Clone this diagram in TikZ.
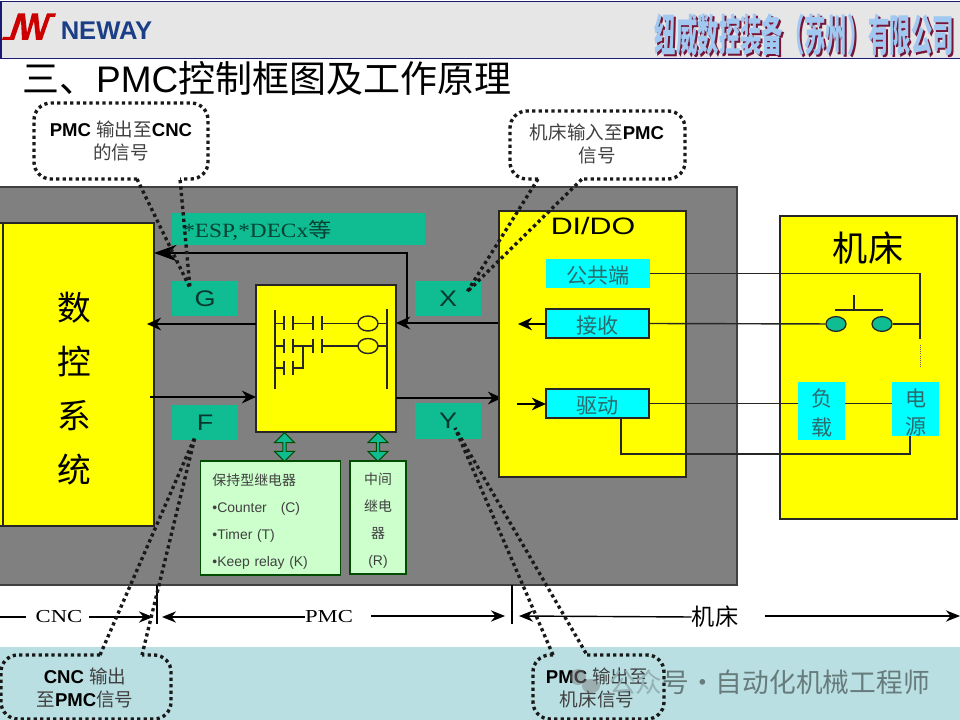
\documentclass[tikz,border=0pt]{standalone}
\usepackage{graphicx}
\usepackage{fontspec}
\setmainfont{Liberation Sans}
\newfontfamily\cjk{Noto Sans CJK SC}
\newfontfamily\serifl{Liberation Serif}
\usetikzlibrary{arrows.meta,positioning,calc,shapes.arrows,shapes.geometric}

\definecolor{panelgray}{HTML}{808080}
\definecolor{headgray}{HTML}{E6E6E6}
\definecolor{navyline}{HTML}{1A1A70}
\definecolor{plcyellow}{HTML}{FFFF00}
\definecolor{sigteal}{HTML}{10BC92}
\definecolor{ioteal}{HTML}{00FFFF}
\definecolor{relaygreen}{HTML}{CCFFCC}
\definecolor{bandteal}{HTML}{BADFE2}
\definecolor{inktext}{HTML}{2A6A6C}

\newcommand{\fs}[1]{\fontsize{#1}{#1}\selectfont}
\newcommand{\widen}[2]{\scalebox{#1}[1]{#2}}
\newcommand{\companyname}{\scalebox{.49}[1]{\fontsize{31}{33}\selectfont\cjk\bfseries 纽威数控装备（苏州）有限公司}}
\newcommand{\zh}[1]{{\cjk\color{black!75}#1}}

\tikzset{
  plate/.style={draw=black!85,line width=1.1pt,inner sep=0pt,outer sep=0pt},
  yellowbox/.style={plate,fill=plcyellow},
  sigbox/.style={fill=sigteal,inner sep=0pt,outer sep=0pt,minimum width=1.65cm,minimum height=.875cm,text=black!70!sigteal,font=\fs{16}},
  iobox/.style={plate,fill=ioteal,minimum width=2.58cm,minimum height=.73cm,text=inktext,font=\fs{15}\cjk,text height=16pt,text depth=2pt},
  padbox/.style={fill=ioteal,inner sep=0pt,outer sep=0pt,minimum width=1.175cm},
  padtext/.style={text=inktext,font=\fs{15}\cjk,align=center,inner sep=0pt},
  relaybox/.style={plate,draw=black!70!green,fill=relaygreen},
  relaytext/.style={text=black!75,inner sep=0pt,font=\fontsize{9.9}{19.2}\selectfont},
  sigline/.style={draw=black,line width=1.5pt},
  sigarrow/.style={sigline,-{Stealth[length=10pt,width=9pt]}},
  wire/.style={draw=black!85,line width=1pt},
  dimline/.style={draw=black,line width=1pt},
  dimarrow/.style={dimline,-{Stealth[length=10pt,width=8pt]}},
  dimtext/.style={font=\fs{13}\serifl,inner sep=0pt},
  callout/.style={draw=black!90,line width=2.4pt,dash pattern=on 2.3pt off 2.3pt},
  calltext/.style={font=\fs{13.2},align=center,inner sep=0pt},
  lamp/.style={draw=black!85,line width=.9pt,fill=sigteal,ellipse,minimum width=.5cm,minimum height=.37cm,inner sep=0pt},
  bothway/.style={draw=black!70!green,line width=.8pt,fill=sigteal,double arrow,rotate=90,inner sep=0pt,
    minimum width=.5cm,minimum height=.72cm,double arrow head extend=2pt}
}

\begin{document}
\begin{tikzpicture}[x=.025cm,y=-.025cm]
\useasboundingbox (0,0) rectangle (960,720);
\clip (0,0) rectangle (960,720);

% Header
\fill[headgray] (0,1) rectangle (960,58);
\draw[navyline,line width=1pt] (1,58) -- (1,1.5) -- (960,1.5) (0,58.5) -- (960,58.5);
\fill[red!80!black] (2,40) -- (3,37) -- (10,37) -- (18,13.5) -- (25,13.5) -- (27,33) -- (32,13.5) -- (38,13.5) -- (40,33) -- (47,13.5) -- (56,13.5) -- (55,17) -- (50,17) -- (42,40) -- (36,40) -- (34,21) -- (28,40) -- (22,40) -- (21,20) -- (14,40) -- cycle;
\node[font=\fs{18.2}\bfseries,text={rgb,255:red,27;green,63;blue,135},inner sep=0pt] (neway) at (106.5,31) {NEWAY};
\node[text={rgb,255:red,120;green,20;blue,55},inner sep=0pt] (companyshade) at (806.5,37) {\companyname};
\node[text={rgb,255:red,160;green,200;blue,240},inner sep=0pt] (company) at (804.5,35) {\companyname};

% Title
\node[font=\fs{26.3},anchor=west,inner sep=0pt] (title) at (22,78) {{\cjk 三、}PMC{\cjk 控制框图及工作原理}};

% Bottom band
\fill[bandteal] (0,647) rectangle (960,720);

% PMC panel
\fill[panelgray,draw=black!75,line width=1.2pt] (-5,187) rectangle (737,585);

% CNC block
\fill[plcyellow,draw=black!85,line width=1.1pt] (-5,223) rectangle (154,526);
\draw[black!85,line width=1pt] (3,223) -- (3,526);
\foreach \y/\lab in {308/数,362/控,416/系,470/统}
  \node[font=\fs{24}\cjk,inner sep=0pt] (cnc\y) at (74,\y) {\lab};

% Signal areas
\node[fill=sigteal,inner sep=0pt,outer sep=0pt,minimum width=6.33cm,minimum height=.8cm] (espbox) at (298.5,229) {};
\node[font=\fs{14.4}\serifl,text=black!65!sigteal,inner sep=0pt,anchor=west] (esptext) at (183,231) {\widen{1.15}{*ESP,*DECx{\cjk 等}}};
\foreach \nam/\x/\y in {G/205/298.5,X/448/298.5,F/205/422.5,Y/448/421}
  \node[sigbox] (\nam box) at (\x,\y) {\widen{1.2}{\nam}};

% Ladder block
\node[yellowbox,minimum width=3.5cm,minimum height=3.675cm] (ladder) at (326,358.5) {};
\draw[wire] (275,310) -- (275,389) (387,309) -- (387,389);
\foreach \y in {323.5,346}
{
  \draw[wire] (275,\y) -- (284,\y) (293,\y) -- (313,\y) (322,\y) -- (358,\y) (378,\y) -- (387,\y);
  \draw[wire] (284,\y-7) -- (284,\y+7) (293,\y-7) -- (293,\y+7) (313,\y-7) -- (313,\y+7) (322,\y-7) -- (322,\y+7);
  \draw[wire] (368,\y) ellipse (10 and 7.5);
}
\draw[wire] (275,368) -- (284,368) (284,361) -- (284,375) (293,361) -- (293,375);
\draw[wire] (293,368) -- (303,368) -- (303,346);

% Relay boxes
\node[relaybox,minimum width=3.5cm,minimum height=2.85cm] (keeprelay) at (270.5,518) {};
\node[relaytext,text width=2.9cm,align=left] (keeptext) at (270.5,521.5)
  {{\cjk 保持型继电器}\\ \textbullet Counter\quad(C)\\ \textbullet Timer (T)\\ \textbullet Keep relay (K)};
\node[relaybox,minimum width=1.4cm,minimum height=2.825cm] (midrelay) at (378,517.5) {};
\node[relaytext,align=center] (midtext) at (378,521)
  {{\cjk 中间}\\ {\cjk 继电}\\ {\cjk 器}\\ (R)};
\node[bothway] (keeplink) at (284.5,447) {};
\node[bothway] (midlink) at (378,447) {};

% Signal arrows
\coordinate (cncleft) at (147,324);
\coordinate (cncright) at (150,397);
\coordinate (xjoin) at (407,323);
\coordinate (cnctop) at (154,253);
\coordinate (didoleft) at (499,323);
\coordinate (didoin) at (502,398);
\draw[sigarrow] (ladder.west |- cncleft) -- (cncleft);
\draw[sigarrow] (cncright) -- (ladder.west |- cncright);
\draw[sigarrow] (didoleft) -- (ladder.east |- didoleft);
\draw[sigarrow] (ladder.east |- didoin) -- (didoin);
\draw[sigline,-{Stealth[length=16pt,width=11.5pt]}] (xjoin) |- (cnctop);

% DI/DO block
\node[yellowbox,minimum width=4.675cm,minimum height=6.65cm] (dido) at (592.5,344) {};
\node[font=\fs{16.9},inner sep=0pt] (didotitle) at (593,226) {\widen{1.28}{DI/DO}};
\node[iobox,draw=none] (common) at (598,273.5) {公共端};
\node[iobox] (receive) at (597.5,323.5) {接收};
\node[iobox] (drive) at (597.5,403.5) {驱动};
\coordinate (recvout) at (518,324);
\coordinate (drivein) at (517,404);
\draw[sigarrow] (receive.west |- recvout) -- (recvout);
\draw[sigarrow] (drivein) -- (drive.west |- drivein);

% Machine block
\node[yellowbox,minimum width=4.425cm,minimum height=7.575cm] (machine) at (868.5,367.5) {};
\node[font=\fs{25}\cjk,inner sep=0pt] (machinetitle) at (868,248) {机床};
\node[padbox,minimum height=1.45cm] (load) at (821.5,411) {};
\node[padbox,minimum height=1.35cm] (power) at (915.5,409) {};
\node[padtext] (loadtext) at (822,413) {负\\[5pt]载};
\node[padtext] (powertext) at (916,412.5) {电\\[5pt]源};
\node[lamp] (lampa) at (836,324) {};
\node[lamp] (lampb) at (882,324) {};

% Wiring
\coordinate (railend) at (920,339);
\coordinate (drivedrop) at (621,454);
\coordinate (powerdrop) at (910,436);
\draw[wire] (common.east) -| (railend);
\draw[wire] (receive.east) -- (lampa);
\draw[wire] (lampb) -- (lampb -| railend);
\draw[wire] (drive.east) -- (load.west |- drive.east);
\draw[wire] (load.east |- drive.east) -- (power.west |- drive.east);
\draw[wire] (drive.south -| drivedrop) -- (drivedrop) -| (powerdrop);
\draw[black!60,line width=.5pt,densely dotted] (920,345) -- (920,367);
\draw[wire] (835,310) -- (883,310) (854,310) -- (854,295);

% Dimension line
\node[dimtext] (cnclab) at (59,617) {\widen{1.24}{CNC}};
\node[dimtext] (pmclab) at (329,617) {\widen{1.24}{PMC}};
\node[font=\fs{16.5}\cjk,inner sep=0pt] (toollab) at (715,617) {机床};
\coordinate (tickcnc) at (157,585);
\coordinate (tickpmc) at (512,585);
\draw[dimline] (tickcnc) -- ++(0,39);
\draw[dimline] (tickpmc) -- ++(0,39);
\draw[dimline] (0,617) -- (26,617);
\draw[dimarrow] (89,617) -- (153,617);
\draw[dimarrow] (pmclab.west) -- (162,617);
\draw[dimarrow] (371,616) -- (505,616);
\draw[dimarrow] (toollab.west) -- (519,616);
\draw[dimarrow] (765,616) -- (960,616);

% Callouts
\coordinate (gtip) at (190,288);
\coordinate (xtip) at (467,292);
\coordinate (ftip) at (195,437);
\coordinate (ytip) at (455,428);
\draw[callout,rounded corners=12] (137,179) -- (34,179) -- (34,103) -- (208,103) -- (208,179) -- (180,179);
\draw[callout] (137,179) -- (gtip) -- (180,179);
\draw[callout,rounded corners=12] (538,179) -- (510,179) -- (510,111) -- (685,111) -- (685,179) -- (582,179);
\draw[callout] (538,179) -- (xtip) -- (582,179);
\draw[callout,rounded corners=12] (100,655) -- (1,655) -- (1,719) -- (171,719) -- (171,655) -- (142,655);
\draw[callout] (100,655) -- (ftip) -- (142,655);
\draw[callout,rounded corners=12] (553,655) -- (533,655) -- (533,719) -- (664,719) -- (664,655) -- (587,655);
\draw[callout] (553,655) -- (ytip) -- (587,655);

\node[calltext] (pmctocnc) at (121,141) {\textbf{PMC} \zh{输出至}\textbf{CNC}\\[3pt]\zh{的信号}};
\node[calltext] (tooltopmc) at (597,144) {\zh{机床输入至}\textbf{PMC}\\[3pt]\zh{信号}};
\node[calltext] (cnctopmc) at (85,688) {\textbf{CNC} \zh{输出}\\[3pt]\zh{至}\textbf{PMC}\zh{信号}};
\node[calltext] (pmctotool) at (597,688) {\textbf{PMC} \zh{输出至}\\[3pt]\zh{机床信号}};

% Watermark
\fill[black!50,opacity=.5] (578,677) ellipse (8 and 8) (591,686) ellipse (9 and 7);
\node[font=\fs{19}\cjk,text=black!45!bandteal,anchor=east,inner sep=0pt] (watermark) at (930,682) {{\color{black!20!bandteal}公众}号·自动化机械工程师};

\end{tikzpicture}
\end{document}
